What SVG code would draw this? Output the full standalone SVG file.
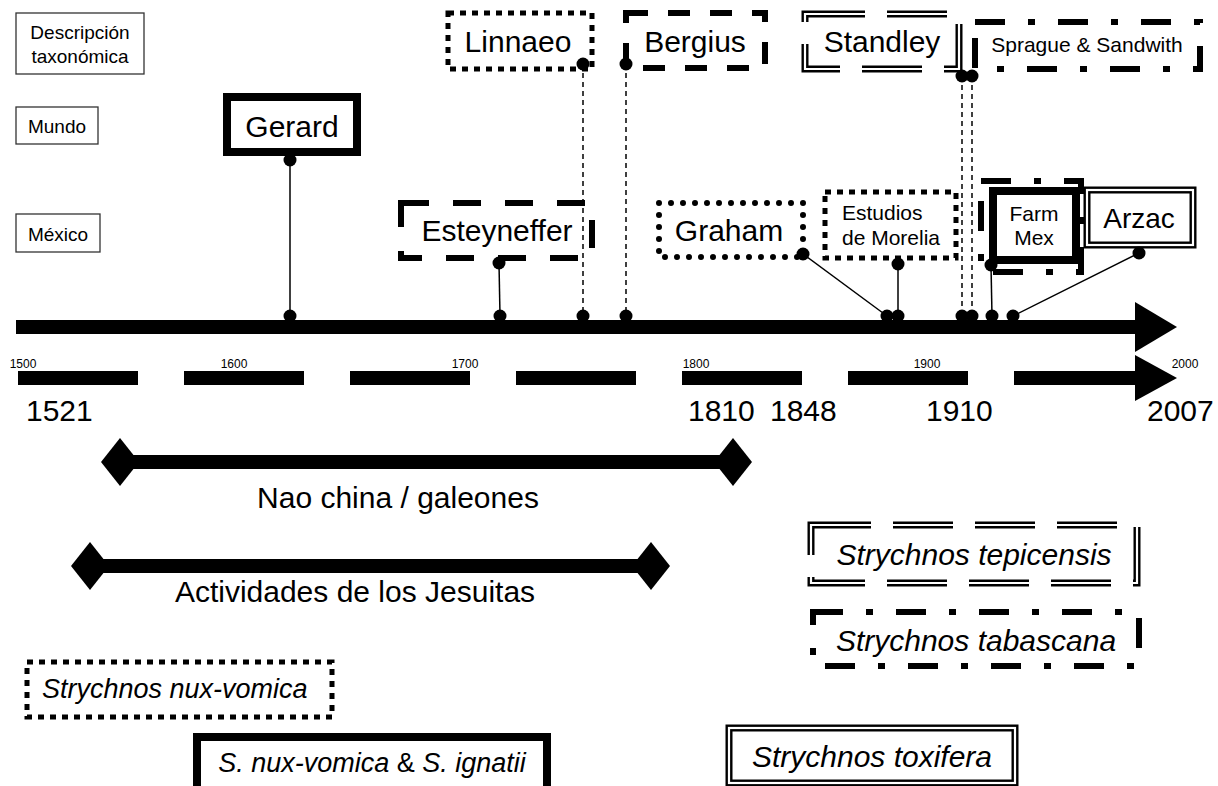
<svg xmlns="http://www.w3.org/2000/svg" width="1218" height="786" viewBox="0 0 1218 786">
<style>
text{font-family:"Liberation Sans",Arial,sans-serif;fill:#000}
.leg{fill:#fff;stroke:#333;stroke-width:1.3}
.lt{font-size:19px}
.b{fill:none;stroke:#000}
.solid{stroke-width:8}
.sq{stroke-width:5;stroke-dasharray:6 6}
.rd{stroke-width:6;stroke-linecap:round;stroke-dasharray:0 12}
.dsh{stroke-width:6;stroke-dasharray:22 20}
.dd{stroke-width:6;stroke-dasharray:30 23 7 23}
.dblo{stroke-width:7}
.dbli{fill:none;stroke:#fff;stroke-width:2.2}
.dbld{stroke-dasharray:60 22}
.big{font-size:30px}
.mid{font-size:21px}
.it{font-style:italic;font-size:30px}
.yr{font-size:12px}
.con{stroke:#000;stroke-width:1.5;fill:none}
.cd{stroke-dasharray:5 4}
.dot{fill:#000}
</style>

<!-- legend -->
<g id="legend-desc"><rect class="leg" x="16" y="13" width="128" height="61"/><text class="lt" x="80" y="39" text-anchor="middle">Descripción</text><text class="lt" x="80" y="63" text-anchor="middle">taxonómica</text></g>
<g id="legend-mundo"><rect class="leg" x="16" y="107" width="82" height="37"/><text class="lt" x="57" y="133" text-anchor="middle">Mundo</text></g>
<g id="legend-mexico"><rect class="leg" x="16" y="214" width="84" height="38"/><text class="lt" x="58" y="241" text-anchor="middle">México</text></g>

<!-- axes -->
<g id="axis-main">
<rect x="16" y="320" width="1120" height="14" fill="#000"/>
<polygon points="1135,302 1177,327 1135,352" fill="#000"/>
</g>
<g id="axis-years">
<g fill="#000">
<rect x="18" y="371" width="120" height="14"/>
<rect x="184" y="371" width="120" height="14"/>
<rect x="350" y="371" width="120" height="14"/>
<rect x="516" y="371" width="120" height="14"/>
<rect x="682" y="371" width="120" height="14"/>
<rect x="848" y="371" width="120" height="14"/>
<rect x="1014" y="371" width="122" height="14"/>
<polygon points="1135,355 1177,378 1135,401"/>
</g>
<text class="yr" x="23" y="368" text-anchor="middle">1500</text>
<text class="yr" x="234" y="368" text-anchor="middle">1600</text>
<text class="yr" x="465" y="368" text-anchor="middle">1700</text>
<text class="yr" x="696" y="368" text-anchor="middle">1800</text>
<text class="yr" x="927" y="368" text-anchor="middle">1900</text>
<text class="yr" x="1185" y="368" text-anchor="middle">2000</text>
<text class="big" x="26" y="421">1521</text>
<text class="big" x="688" y="421">1810</text>
<text class="big" x="770" y="421">1848</text>
<text class="big" x="926" y="421">1910</text>
<text class="big" x="1147" y="421">2007</text>
</g>

<!-- periods -->
<g id="period-nao">
<rect x="120" y="455" width="613" height="14" fill="#000"/>
<polygon points="101,462 120,438 139,462 120,486" fill="#000"/>
<polygon points="714,462 733,438 752,462 733,486" fill="#000"/>
<text class="big" x="398" y="508" text-anchor="middle">Nao china / galeones</text>
</g>
<g id="period-jesuitas">
<rect x="90" y="559" width="561" height="14" fill="#000"/>
<polygon points="71,566 90,542 109,566 90,590" fill="#000"/>
<polygon points="632,566 651,542 670,566 651,590" fill="#000"/>
<text class="big" x="355" y="602" text-anchor="middle">Actividades de los Jesuitas</text>
</g>

<!-- nodes top row -->
<g id="gerard"><rect class="b solid" x="227" y="97" width="130" height="55"/><text class="big" x="292" y="137" text-anchor="middle">Gerard</text></g>
<g id="linnaeo"><rect class="b sq" x="448" y="13" width="144" height="56"/><text class="big" x="518" y="52" text-anchor="middle">Linnaeo</text></g>
<g id="bergius"><rect class="b dsh" x="626" y="13" width="139" height="55"/><text class="big" x="695" y="52" text-anchor="middle">Bergius</text></g>
<g id="standley"><rect class="b dblo dbld" x="805" y="14" width="154" height="55"/><rect class="dbli dbld" x="805" y="14" width="154" height="55"/><text class="big" x="882" y="52" text-anchor="middle">Standley</text></g>
<g id="sprague"><rect class="b dd" x="975" y="22" width="225" height="47"/><text class="mid" x="1087" y="52" text-anchor="middle">Sprague &amp; Sandwith</text></g>

<!-- nodes mexico row -->
<g id="esteyneffer"><rect class="b dsh" x="401" y="203" width="191" height="55" style="stroke-dasharray:28 24"/><text class="big" x="497" y="241" text-anchor="middle">Esteyneffer</text></g>
<g id="graham"><rect class="b rd" x="659" y="203" width="144" height="54"/><text class="big" x="729" y="241" text-anchor="middle">Graham</text></g>
<g id="morelia"><rect class="b sq" x="825" y="192" width="131" height="66"/><text class="mid" x="842" y="220">Estudios</text><text class="mid" x="842" y="245">de Morelia</text></g>
<g id="farmmex"><rect class="b dd" x="981" y="181" width="100" height="91"/><rect class="b solid" x="993" y="191" width="83" height="69"/><text class="mid" x="1034" y="221" text-anchor="middle">Farm</text><text class="mid" x="1034" y="245" text-anchor="middle">Mex</text></g>
<g id="arzac"><rect class="b dblo" x="1087" y="190" width="106" height="55"/><rect class="dbli" x="1087" y="190" width="106" height="55"/><text class="big" x="1139" y="228" text-anchor="middle" style="font-size:28px">Arzac</text></g>

<!-- species -->
<g id="tepicensis"><rect class="b dblo dbld" x="811" y="525" width="326" height="58"/><rect class="dbli dbld" x="811" y="525" width="326" height="58"/><text class="it" x="974" y="565" text-anchor="middle">Strychnos tepicensis</text></g>
<g id="tabascana"><rect class="b dd" x="813" y="612" width="326" height="54"/><text class="it" x="976" y="651" text-anchor="middle">Strychnos tabascana</text></g>
<g id="nuxvomica"><rect class="b sq" x="27" y="662" width="305" height="55"/><text class="it" x="42" y="698" style="font-size:27px">Strychnos nux-vomica</text></g>
<g id="nux-ignatii"><rect class="b solid" x="197" y="737" width="350" height="57"/><text x="372" y="772" text-anchor="middle" style="font-size:27px"><tspan font-style="italic">S. nux-vomica</tspan> &amp; <tspan font-style="italic">S. ignatii</tspan></text></g>
<g id="toxifera"><rect class="b dblo" x="729" y="728" width="286" height="55"/><rect class="dbli" x="729" y="728" width="286" height="55"/><text class="it" x="872" y="767" text-anchor="middle">Strychnos toxifera</text></g>

<!-- connectors -->
<g id="connectors">
<line class="con" x1="290" y1="160" x2="290" y2="316"/>
<line class="con cd" x1="583" y1="64" x2="583" y2="316"/>
<line class="con cd" x1="626" y1="64" x2="626" y2="316"/>
<line class="con cd" x1="962" y1="76" x2="962" y2="316"/>
<line class="con cd" x1="972" y1="76" x2="972" y2="316"/>
<line class="con" x1="499" y1="263" x2="500" y2="316"/>
<line class="con" x1="803" y1="254" x2="887" y2="316"/>
<line class="con" x1="898" y1="264" x2="898" y2="316"/>
<line class="con" x1="991" y1="265" x2="992" y2="316"/>
<line class="con" x1="1139" y1="253" x2="1013" y2="316"/>
<g class="dot">
<circle cx="290" cy="160" r="6.5"/><circle cx="290" cy="316" r="6.5"/>
<circle cx="583" cy="64" r="6.5"/><circle cx="583" cy="316" r="6.5"/>
<circle cx="626" cy="64" r="6.5"/><circle cx="626" cy="316" r="6.5"/>
<circle cx="962" cy="76" r="6.5"/><circle cx="962" cy="316" r="6.5"/>
<circle cx="972" cy="76" r="6.5"/><circle cx="972" cy="316" r="6.5"/>
<circle cx="499" cy="263" r="6.5"/><circle cx="500" cy="316" r="6.5"/>
<circle cx="803" cy="254" r="6.5"/><circle cx="887" cy="316" r="6.5"/>
<circle cx="898" cy="264" r="6.5"/><circle cx="898" cy="316" r="6.5"/>
<circle cx="991" cy="265" r="6.5"/><circle cx="992" cy="316" r="6.5"/>
<circle cx="1139" cy="253" r="6.5"/><circle cx="1013" cy="316" r="6.5"/>
</g>
</g>
</svg>
